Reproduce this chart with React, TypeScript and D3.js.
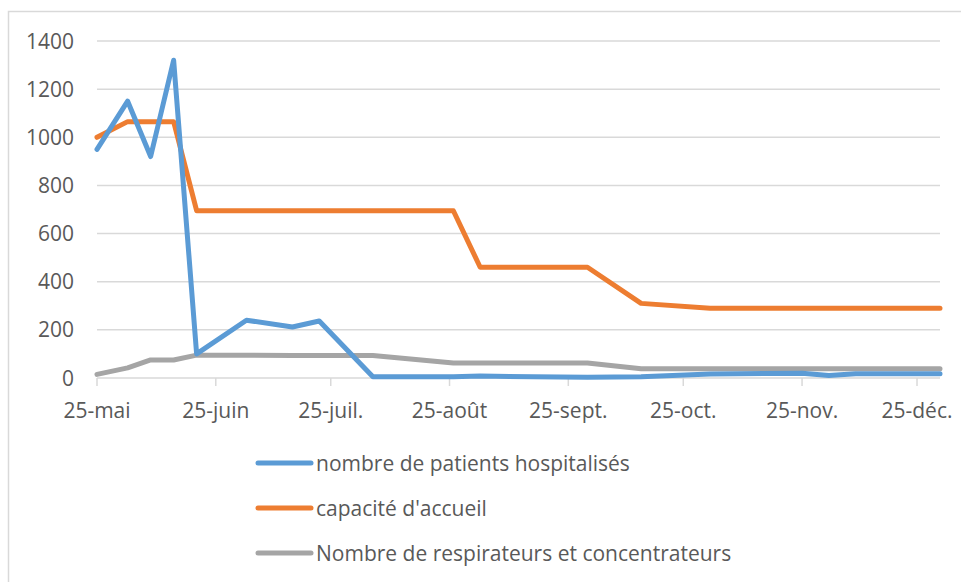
import React, { useEffect, useRef } from 'react';
import * as d3 from 'd3';

// dates of the observations (2020)
const dates = [
  '2020-05-25', '2020-06-02', '2020-06-08', '2020-06-14', '2020-06-20',
  '2020-07-03', '2020-07-15', '2020-07-22', '2020-08-05', '2020-08-26',
  '2020-09-02', '2020-09-16', '2020-09-30', '2020-10-14', '2020-11-01',
  '2020-11-25', '2020-12-02', '2020-12-09', '2020-12-31',
];

const patients = [950, 1150, 920, 1320, 100, 240, 212, 237, 5, 5, 8, 5, 3, 5, 17, 20, 10, 18, 18];
const capacite = [1000, 1065, 1065, 1065, 695, 695, 695, 695, 695, 695, 460, 460, 460, 310, 290, 290, 290, 290, 290];
const respirateurs = [15, 42, 75, 75, 95, 95, 93, 93, 93, 62, 62, 62, 62, 38, 38, 38, 38, 38, 38];

const seriesNames = [
  'nombre de patients hospitalisés',
  "capacité d'accueil",
  'Nombre de respirateurs et concentrateurs',
];
const seriesColors = ['#5B9BD5', '#ED7D31', '#A5A5A5'];

const yTicks = [0, 200, 400, 600, 800, 1000, 1200, 1400];
const xTickDates = ['2020-05-25', '2020-06-25', '2020-07-25', '2020-08-25', '2020-09-25', '2020-10-25', '2020-11-25', '2020-12-25'];
const xTickLabels = ['25-mai', '25-juin', '25-juil.', '25-août', '25-sept.', '25-oct.', '25-nov.', '25-déc.'];

const App = () => {
  const ref = useRef<SVGSVGElement>(null);

  useEffect(() => {
    const svg = d3.select(ref.current);
    svg.selectAll('*').remove();

    const width = 961;
    const height = 582;
    const left = 97, right = 940, top = 41, bottom = 378;
    const font = "'Open Sans', sans-serif";
    const fontSize = 21;
    const textColor = '#595959';

    const parse = d3.timeParse('%Y-%m-%d');
    const x = d3.scaleTime()
      .domain([parse(dates[0])!, parse(dates[dates.length - 1])!])
      .range([left, right]);
    const y = d3.scaleLinear().domain([0, 1400]).range([bottom, top]);

    // background + frame
    svg.append('rect').attr('width', width).attr('height', height).attr('fill', 'white');
    svg.append('rect')
      .attr('x', 8.5).attr('y', 11.5)
      .attr('width', 970).attr('height', 600)
      .attr('fill', 'none').attr('stroke', '#d9d9d9').attr('stroke-width', 1.5);

    // gridlines
    svg.append('g').selectAll('line')
      .data(yTicks)
      .join('line')
      .attr('x1', left).attr('x2', right)
      .attr('y1', d => y(d)).attr('y2', d => y(d))
      .attr('stroke', '#d9d9d9').attr('stroke-width', 1.5);

    // y labels
    svg.append('g').selectAll('text')
      .data(yTicks)
      .join('text')
      .attr('x', 74).attr('y', d => y(d))
      .attr('dy', '0.36em')
      .attr('text-anchor', 'end')
      .attr('font-family', font).attr('font-size', fontSize)
      .attr('fill', textColor)
      .text(d => d);

    // x ticks and labels
    const xg = svg.append('g');
    xg.selectAll('line')
      .data(xTickDates)
      .join('line')
      .attr('x1', d => x(parse(d)!)).attr('x2', d => x(parse(d)!))
      .attr('y1', bottom).attr('y2', bottom + 8)
      .attr('stroke', '#d9d9d9').attr('stroke-width', 1.5);
    xg.selectAll('text')
      .data(xTickDates)
      .join('text')
      .attr('x', d => x(parse(d)!)).attr('y', 418)
      .attr('text-anchor', 'middle')
      .attr('font-family', font).attr('font-size', fontSize)
      .attr('fill', textColor)
      .text((d, i) => xTickLabels[i]);

    // lines
    const allSeries = [patients, capacite, respirateurs];
    const line = d3.line<number>()
      .x((d, i) => x(parse(dates[i])!))
      .y(d => y(d));

    // draw grey first, then orange, then blue on top
    [2, 1, 0].forEach(k => {
      svg.append('path')
        .datum(allSeries[k])
        .attr('d', line)
        .attr('fill', 'none')
        .attr('stroke', seriesColors[k])
        .attr('stroke-width', 5)
        .attr('stroke-linejoin', 'round')
        .attr('stroke-linecap', 'round');
    });

    // legend
    const legend = svg.append('g').selectAll('g')
      .data(seriesNames)
      .join('g')
      .attr('transform', (d, i) => `translate(0, ${463 + i * 45})`);
    legend.append('line')
      .attr('x1', 258).attr('x2', 311)
      .attr('y1', 0).attr('y2', 0)
      .attr('stroke', (d, i) => seriesColors[i])
      .attr('stroke-width', 5)
      .attr('stroke-linecap', 'round');
    legend.append('text')
      .attr('x', 316).attr('y', 0)
      .attr('dy', '0.36em')
      .attr('font-family', font).attr('font-size', fontSize)
      .attr('fill', textColor)
      .text(d => d);
  }, []);

  return (
    <svg
      ref={ref}
      width={961}
      height={582}
      style={{ position: 'absolute', left: 0, top: 0, display: 'block' }}
    />
  );
};

export default App;
